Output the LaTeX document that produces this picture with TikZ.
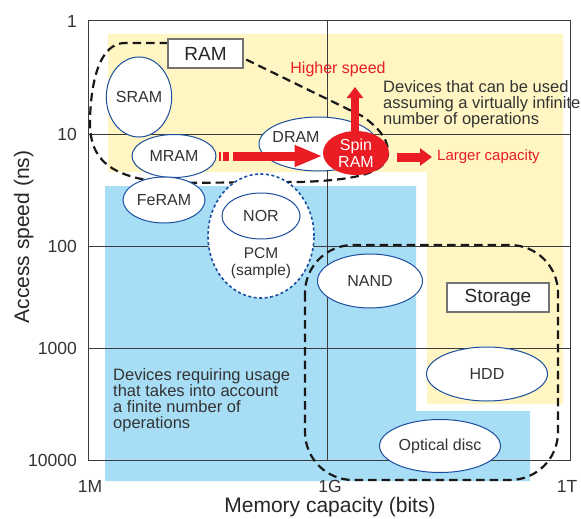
\documentclass[tikz,border=0pt]{standalone}
\usepackage{fontspec}
\setmainfont{Liberation Sans}
\usetikzlibrary{arrows.meta,shapes.geometric,calc}

\definecolor{ramyellow}{RGB}{255,246,196}
\definecolor{storeblue}{RGB}{168,221,246}
\definecolor{cellblue}{RGB}{26,78,158}
\definecolor{spinred}{RGB}{234,28,36}
\definecolor{gridgray}{RGB}{60,60,60}

\begin{document}
\begin{tikzpicture}[x=1pt,y=-1pt,>=latex]
% --- styles -----------------------------------------------------
\tikzstyle{cell}=[ellipse,draw=cellblue,line width=1pt,fill=white,inner sep=0pt,text=black!80,font=\fontsize{16}{17}\selectfont]
\tikzstyle{groupline}=[black!90,line width=2.2pt,dash pattern=on 8.5pt off 5pt]
\tikzstyle{groupbox}=[draw=black!55,line width=1.2pt,fill=white,inner sep=0pt,text=black!85,font=\fontsize{19}{19}\selectfont]
\tikzstyle{redbar}=[spinred,line width=9pt]
\tikzstyle{ticklabel}=[inner sep=0pt,text=black!80,font=\fontsize{17.5}{17.5}\selectfont]
\tikzstyle{note}=[inner sep=0pt,anchor=north west,align=left,text=black!80,font=\fontsize{16.5}{16.2}\selectfont]
\tikzstyle{rednote}=[inner sep=0pt,text=spinred,font=\fontsize{16}{17}\selectfont]

\useasboundingbox (0,0) rectangle (581,519);

% --- background areas -------------------------------------------
\fill[ramyellow] (108,34) -- (563,34) -- (563,404) -- (427,404) -- (427,172) -- (108,172) -- cycle;
\fill[storeblue] (105,186) -- (416,186) -- (416,411) -- (530,411) -- (530,481) -- (105,481) -- cycle;

% --- frame and grid ---------------------------------------------
\draw[gridgray,line width=1pt] (88,21) rectangle (570,460);
\foreach \y in {134,246,348} \draw[gridgray,line width=0.7pt] (88,\y) -- (570,\y);
\draw[gridgray,line width=0.7pt] (327,21) -- (327,460);

% tick labels
\foreach \y/\t in {21/1,134/10,246/100,348/1000,460/10000}
  \node[ticklabel,anchor=east] (ytick\t) at (77,\y) {\t};
\foreach \x/\t in {90/1M,330/1G,567/1T}
  \node[ticklabel] (xtick\t) at (\x,486.5) {\t};

% axis titles
\node[inner sep=0pt,anchor=base,text=black!85,font=\fontsize{21}{21}\selectfont] (xtitle) at (330,512) {Memory capacity (bits)};
\node[inner sep=0pt,anchor=base,rotate=90,text=black!85,font=\fontsize{21}{21}\selectfont] (ytitle) at (29,237) {Access speed (ns)};

% --- dashed groups ----------------------------------------------
\draw[groupline] (168,43) -- (125,43) .. controls (100,43) and (91,80) .. (90,120)
  .. controls (89,160) and (110,178) .. (170,183) -- (300,182)
  .. controls (360,180) and (390,172) .. (388,150)
  .. controls (387,138) and (378,127) .. (362,116) -- (243,58);
\draw[groupline,rounded corners=48pt] (305,245) rectangle (558,480);

\node[groupbox,minimum width=75pt,minimum height=29pt] (ram) at (205.5,53.5) {RAM};
\node[groupbox,minimum width=102pt,minimum height=29pt] (storage) at (498,297.5) {Storage};

% --- memory cells -----------------------------------------------
\node[cell,minimum width=60pt,minimum height=80pt] (sram) at (139,97) {SRAM};
\node[cell,minimum width=84pt,minimum height=43pt] (mram) at (174,156) {MRAM};
\node[cell,minimum width=82pt,minimum height=46pt] (feram) at (164,200) {FeRAM};
\node[cell,draw=cellblue,line width=1.6pt,dash pattern=on 3pt off 2.5pt,minimum width=106pt,minimum height=124pt] (pcm) at (261,236) {};
\node[rednote,text=black!80,align=center,font=\fontsize{15.5}{17}\selectfont] (pcmtext) at ([yshift=-27pt]pcm.center) {PCM\\(sample)};
\node[cell,minimum width=78pt,minimum height=46pt] (nor) at (261,216) {NOR};
\node[cell,minimum width=118pt,minimum height=54pt] (dram) at (318,144) {};
\node[rednote,text=black!80] (dramtext) at ([xshift=-22pt,yshift=7pt]dram.center) {DRAM};
\node[cell,draw=none,fill=spinred,text=white,align=center,minimum width=66pt,minimum height=44pt] (spin) at (356,153) {Spin\\RAM};
\node[cell,minimum width=105pt,minimum height=54pt] (nand) at (370,281) {NAND};
\node[cell,minimum width=121pt,minimum height=54pt] (hdd) at (487,374) {HDD};
\node[cell,minimum width=121pt,minimum height=53pt] (optical) at (440,446) {Optical disc};

% --- red arrows -------------------------------------------------
\coordinate (speedtip) at (355,87);
\coordinate (captip) at (432,157);
\draw[redbar,dash pattern=on 2pt off 2pt on 6pt off 4pt] ([xshift=2pt]mram.east) -- ([xshift=16pt]mram.east);
\draw[redbar,-{Triangle[length=28pt,width=20pt]}] ([xshift=16pt]mram.east) -- (mram.east -| spin.west);
\draw[redbar,line width=8pt,-{Triangle[length=11pt,width=16pt]}] (speedtip |- spin.north) -- (speedtip);
\draw[redbar,-{Triangle[length=12pt,width=17pt]}] ($(spin.east)+(7,4)$) -- (captip);

% --- texts ------------------------------------------------------
\node[rednote] (higher) at (338,69) {Higher speed};
\node[rednote,anchor=west,font=\fontsize{15}{16}\selectfont] (larger) at (437,157) {Larger capacity};
\node[note] (infinite) at (383,80) {Devices that can be used\\assuming a virtually infinite\\number of operations};
\node[note] (finite) at (113,368) {Devices requiring usage\\that takes into account\\a finite number of\\operations};

\end{tikzpicture}
\end{document}
